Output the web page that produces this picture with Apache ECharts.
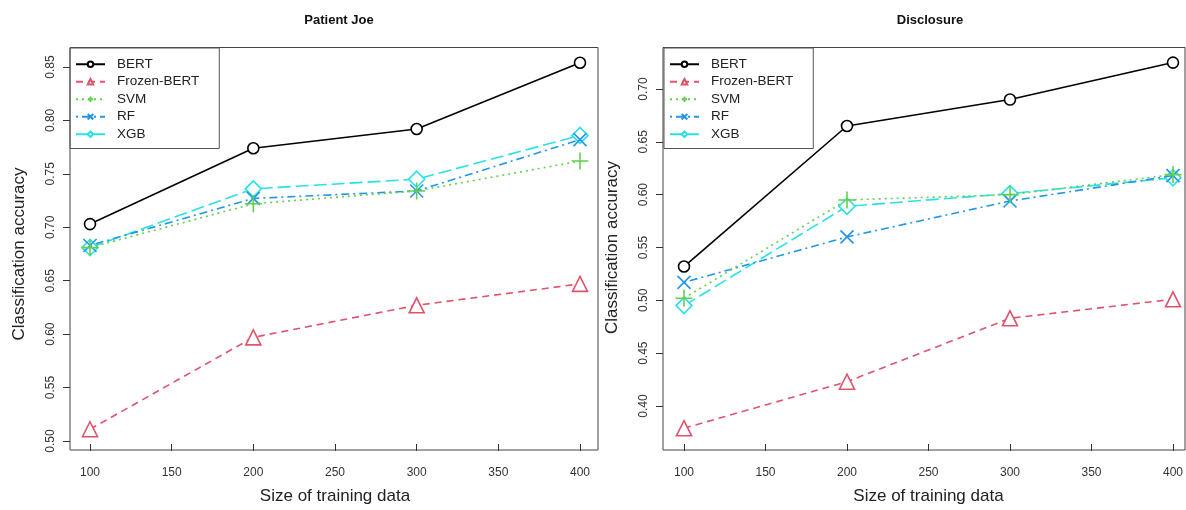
<!DOCTYPE html>
<html><head><meta charset="utf-8">
<script src="https://cdn.jsdelivr.net/npm/echarts@6/dist/echarts.min.js"></script>
<style>html,body{margin:0;padding:0;background:#fff}#c{width:1186px;height:510px}</style>
</head><body><div id="c"></div>
<script>
const sizes = [100, 200, 300, 400];
const seriesNames = ['BERT', 'Frozen-BERT', 'SVM', 'RF', 'XGB'];
// Patient Joe
const joeBERT   = [0.703, 0.774, 0.792, 0.854];
const joeFrozen = [0.511, 0.597, 0.627, 0.647];
const joeSVM    = [0.681, 0.722, 0.734, 0.762];
const joeRF     = [0.683, 0.727, 0.734, 0.782];
const joeXGB    = [0.681, 0.736, 0.745, 0.786];
// Disclosure
const disBERT   = [0.532, 0.665, 0.690, 0.725];
const disFrozen = [0.379, 0.423, 0.483, 0.501];
const disSVM    = [0.502, 0.595, 0.600, 0.619];
const disRF     = [0.517, 0.560, 0.594, 0.618];
const disXGB    = [0.495, 0.589, 0.601, 0.616];
const panelTitles = ['Patient Joe', 'Disclosure'];
const xTitle = 'Size of training data';
const yTitle = 'Classification accuracy';

const colors = ['#000000', '#DF536B', '#61D04F', '#2297E6', '#28E2E5'];
const dashes = ['solid', [7,5], [2,4], [2,4,8,4], [13,5]];
const symbols = ['circle', 'triangle', 'path://M5,0L5,10M0,5L10,5', 'path://M0,0L10,10M10,0L0,10', 'diamond'];
const symSizes = [11, 15, 17, 13, 16];
const font = 'Liberation Sans, Arial, sans-serif';

function mkSeries(vals, gi) {
  return vals.map((v, i) => ({
    name: seriesNames[i], type: 'line', xAxisIndex: gi, yAxisIndex: gi, clip: false,
    data: sizes.map((s, k) => [s, v[k]]),
    symbol: symbols[i], symbolSize: symSizes[i], showSymbol: true,
    color: colors[i],
    lineStyle: { color: colors[i], width: 1.6, type: dashes[i] },
    itemStyle: { color: (i === 2 || i === 3) ? 'none' : '#fff', borderColor: colors[i], borderWidth: 1.6 },
    emphasis: { disabled: true }, animation: false, z: 5 - i
  }));
}

const xAx = (gi, off) => ({
  type: 'value', gridIndex: gi, min: 100, max: 400, interval: 50, offset: off,
  axisLine: { show: false }, splitLine: { show: false },
  axisTick: { show: true, length: 7, lineStyle: { color: '#333' } },
  axisLabel: { margin: 23, color: '#333', fontSize: 12, fontFamily: font },
  name: xTitle, nameLocation: 'middle', nameGap: 44,
  nameTextStyle: { fontSize: 17, color: '#222', fontFamily: font }
});
const yAx = (gi, mn, mx, off) => ({
  type: 'value', gridIndex: gi, min: mn, max: mx, interval: 0.05, offset: off,
  axisLine: { show: false }, splitLine: { show: false },
  axisTick: { show: true, length: 7, lineStyle: { color: '#333' } },
  axisLabel: { rotate: 90, margin: 13, color: '#333', fontSize: 12, fontFamily: font, formatter: v => v.toFixed(2) },
  name: yTitle, nameLocation: 'middle', nameRotate: 90, nameGap: 42,
  nameTextStyle: { fontSize: 17, color: '#222', fontFamily: font }
});
const legendCfg = (left) => ({
  data: seriesNames, orient: 'vertical', left: left, top: 48,
  borderColor: '#555', borderWidth: 1, padding: [9, 20, 7, 5],
  itemWidth: 29, itemHeight: 7, itemGap: 3, selectedMode: false,
  textStyle: { fontSize: 13.5, color: '#222', fontFamily: font, padding: [0, 0, 0, 7], lineHeight: 14.5 }
});

const chart = echarts.init(document.getElementById('c'), null, { renderer: 'canvas' });
chart.setOption({
  backgroundColor: '#fff',
  animation: false,
  title: [
    { text: panelTitles[0], left: 334, top: 9, textAlign: 'center', textStyle: { fontSize: 13, fontWeight: 'bold', color: '#111', fontFamily: font } },
    { text: panelTitles[1], left: 925, top: 9, textAlign: 'center', textStyle: { fontSize: 13, fontWeight: 'bold', color: '#111', fontFamily: font } }
  ],
  grid: [
    { left: 90, right: 1186 - 580, top: 67, bottom: 510 - 447 },
    { left: 684, right: 1186 - 1173, top: 89, bottom: 510 - 412 }
  ],
  xAxis: [xAx(0, 3), xAx(1, 38)],
  yAxis: [yAx(0, 0.5, 0.85, 20), yAx(1, 0.4, 0.7, 21)],
  legend: [legendCfg(70), legendCfg(664)],
  graphic: [
    { type: 'rect', shape: { x: 70, y: 47.5, width: 528, height: 402.5 }, style: { fill: 'none', stroke: '#444', lineWidth: 1 }, silent: true, z: 0 },
    { type: 'rect', shape: { x: 663, y: 47.5, width: 522, height: 402.5 }, style: { fill: 'none', stroke: '#444', lineWidth: 1 }, silent: true, z: 0 }
  ],
  series: [...mkSeries([joeBERT, joeFrozen, joeSVM, joeRF, joeXGB], 0), ...mkSeries([disBERT, disFrozen, disSVM, disRF, disXGB], 1)]
});
</script></body></html>
